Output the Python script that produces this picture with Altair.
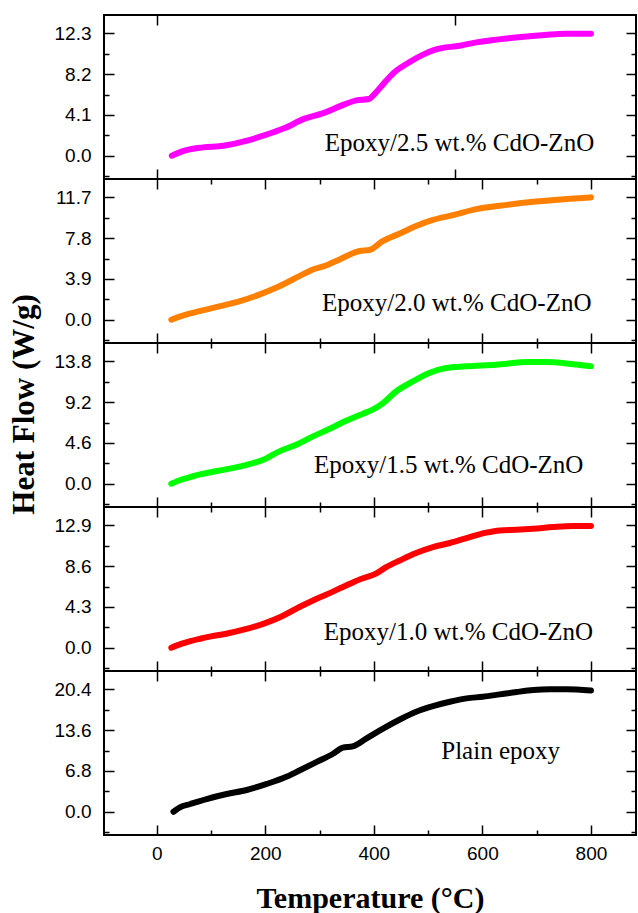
import altair as alt
import pandas as pd

# ---------------- data ----------------
TEMP_25 = [28, 47, 85, 123, 161, 198, 236, 274, 293, 312, 337, 368, 391, 400, 419, 438, 463, 488, 513, 558, 589, 652, 715, 753, 800]
HF_25 = [0.0, 0.44, 0.84, 1.0, 1.44, 2.04, 2.78, 3.75, 4.05, 4.39, 4.96, 5.56, 5.70, 6.13, 7.3, 8.38, 9.32, 10.09, 10.66, 11.06, 11.39, 11.83, 12.13, 12.26, 12.26]

TEMP_20 = [27, 44, 62, 79, 115, 152, 189, 226, 263, 288, 312, 337, 374, 392, 417, 448, 478, 509, 546, 589, 632, 694, 755, 800]
HF_20 = [0.0, 0.32, 0.6, 0.82, 1.28, 1.76, 2.40, 3.2, 4.17, 4.81, 5.19, 5.77, 6.57, 6.67, 7.53, 8.24, 8.97, 9.55, 10.0, 10.58, 10.9, 11.28, 11.54, 11.7]

TEMP_15 = [27, 45, 62, 80, 100, 130, 160, 200, 226, 257, 288, 318, 349, 380, 398, 417, 441, 472, 502, 533, 570, 625, 686, 717, 760, 800]
HF_15 = [0.0, 0.45, 0.75, 1.05, 1.3, 1.65, 2.05, 2.8, 3.65, 4.40, 5.34, 6.17, 7.1, 7.9, 8.35, 9.1, 10.4, 11.54, 12.48, 13.05, 13.24, 13.42, 13.72, 13.72, 13.54, 13.24]

TEMP_10 = [27, 45, 62, 80, 100, 130, 160, 200, 230, 263, 288, 312, 343, 374, 401, 423, 448, 478, 509, 540, 571, 607, 632, 663, 694, 730, 767, 800]
HF_10 = [0.0, 0.4, 0.7, 0.95, 1.2, 1.5, 1.9, 2.6, 3.3, 4.29, 4.99, 5.59, 6.4, 7.2, 7.73, 8.5, 9.2, 9.98, 10.6, 11.04, 11.56, 12.13, 12.37, 12.44, 12.55, 12.72, 12.83, 12.83]

TEMP_00 = [31, 43, 62, 92, 129, 166, 203, 240, 263, 294, 325, 343, 361, 386, 417, 448, 478, 509, 540, 571, 601, 632, 663, 694, 724, 755, 800]
HF_00 = [0.0, 0.73, 1.29, 2.12, 2.96, 3.63, 4.64, 5.87, 6.88, 8.27, 9.67, 10.68, 10.9, 12.19, 13.86, 15.37, 16.66, 17.6, 18.33, 18.9, 19.17, 19.56, 19.96, 20.29, 20.4, 20.4, 20.2]

NAMES = ["Epoxy/2.5 wt.% CdO-ZnO", "Epoxy/2.0 wt.% CdO-ZnO", "Epoxy/1.5 wt.% CdO-ZnO",
         "Epoxy/1.0 wt.% CdO-ZnO", "Plain epoxy"]
Y_TICKS = [[0.0, 4.1, 8.2, 12.3], [0.0, 3.9, 7.8, 11.7], [0.0, 4.6, 9.2, 13.8],
           [0.0, 4.3, 8.6, 12.9], [0.0, 6.8, 13.6, 20.4]]
X_TICKS = [0, 100, 200, 300, 400, 500, 600, 700, 800]
X_TICKS_TOP_PANEL = [0, 550]

# ---------------- styling / layout ----------------
COLORS = ["#FF00FF", "#FF8000", "#00FF00", "#FF0000", "#000000"]
LABEL_ANCHOR = [(806, 1.27), (801, 1.6), (786, 2.14), (804, 1.65), (743, 10.2)]
X_DOMAIN = [-97, 883]
W, H = 532, 164

SERIES = [(TEMP_25, HF_25), (TEMP_20, HF_20), (TEMP_15, HF_15), (TEMP_10, HF_10), (TEMP_00, HF_00)]


def make_panel(i):
    temps, vals = SERIES[i]
    majors = Y_TICKS[i]
    M = majors[-1]
    step = majors[1]
    yvals = sorted(majors + [-step / 2] + [t + step / 2 for t in majors[:-1]])
    ydom = [-0.19 * M, 1.15 * M]
    ytest = f"abs(datum.value/{step} - round(datum.value/{step})) < 0.01"
    ytick = alt.ExprRef(expr=f"{ytest} ? -10 : -5")

    xvals = X_TICKS_TOP_PANEL if i == 0 else X_TICKS
    xtick = alt.ExprRef(expr="-10") if i == 0 else alt.ExprRef(expr="datum.value % 200 == 0 ? -10 : -5")

    xscale = alt.Scale(domain=X_DOMAIN, nice=False, zero=False)
    yscale = alt.Scale(domain=ydom, nice=False, zero=False)

    common = dict(domain=False, grid=False, tickColor="black", tickWidth=1.5)
    last = i == len(SERIES) - 1

    if last:
        xaxis = alt.Axis(orient="bottom", values=xvals, tickSize=xtick,
                         labelExpr="datum.value % 200 == 0 ? datum.label : ''",
                         labelFont="Liberation Sans", labelFontSize=19, labelColor="black",
                         labelPadding=19, labelFlush=False,
                         title="Temperature (°C)", titleFont="Liberation Serif",
                         titleFontWeight="bold", titleFontSize=30, titleColor="black",
                         titlePadding=20, **common)
    else:
        xaxis = alt.Axis(orient="bottom", values=xvals, tickSize=xtick, labels=False,
                         title=None, **common)

    yaxis_kw = dict(orient="left", values=yvals, tickSize=ytick,
                    labelExpr=f"{ytest} ? format(datum.value, '.1f') : ''",
                    labelFont="Liberation Sans", labelFontSize=19, labelColor="black",
                    labelPadding=23, labelFlush=False, **common)
    if i == 2:
        yaxis = alt.Axis(title="Heat Flow (W/g)", titleFont="Liberation Serif",
                         titleFontWeight="bold", titleFontSize=31, titleColor="black",
                         titleAngle=270, titleX=-80, titleY=61, titleAlign="center",
                         titleBaseline="middle", **yaxis_kw)
    else:
        yaxis = alt.Axis(title=None, **yaxis_kw)

    df = pd.DataFrame({"T": temps, "HF": vals})
    line = alt.Chart(df).mark_line(color=COLORS[i], strokeWidth=6, strokeCap="round",
                                   strokeJoin="round", interpolate="monotone").encode(
        x=alt.X("T:Q", scale=xscale, axis=xaxis),
        y=alt.Y("HF:Q", scale=yscale, axis=yaxis),
    )

    lx, ly = LABEL_ANCHOR[i]
    ldf = pd.DataFrame({"x": [lx], "y": [ly], "label": [NAMES[i]]})
    text = alt.Chart(ldf).mark_text(font="Liberation Serif", fontSize=25, align="right",
                                    baseline="middle", color="black").encode(
        x=alt.X("x:Q", scale=xscale,
                axis=alt.Axis(orient="top", values=xvals, tickSize=xtick, labels=False,
                              title=None, **common)),
        y=alt.Y("y:Q", scale=yscale,
                axis=alt.Axis(orient="right", values=yvals, tickSize=ytick, labels=False,
                              title=None, **common)),
        text="label:N",
    )
    return alt.layer(line, text).resolve_scale(x="independent", y="independent").properties(
        width=W, height=H)


chart = alt.vconcat(*[make_panel(i) for i in range(len(SERIES))], spacing=0,
                    bounds="flush").properties(
    padding={"left": 7, "top": 13, "right": 0, "bottom": 0},
    background="white",
).configure_view(stroke="black", strokeWidth=2)

chart.save("out.html", embed_options={"renderer": "svg", "actions": False})
